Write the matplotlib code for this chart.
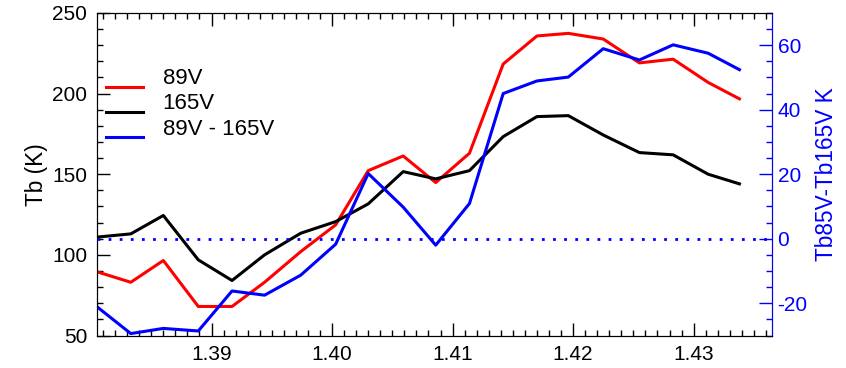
import numpy as np
import matplotlib.pyplot as plt
from matplotlib.ticker import MultipleLocator

plt.rcParams['font.family'] = ['Liberation Sans', 'DejaVu Sans']
plt.rcParams['axes.unicode_minus'] = False

# sample positions along the transect
x = [1.3805, 1.3833, 1.3860, 1.3889, 1.3917, 1.3944, 1.3974, 1.4003,
     1.4030, 1.4059, 1.4086, 1.4114, 1.4142, 1.4170, 1.4196, 1.4225,
     1.4255, 1.4283, 1.4312, 1.4338]

# brightness temperatures (K)
tb89 = [89.5, 83.0, 96.5, 68.0, 68.0, 83.0, 102.0, 118.6, 152.2, 161.3,
        144.8, 163.0, 218.3, 235.7, 237.3, 233.8, 219.0, 221.3, 206.9, 196.7]
tb165 = [111.0, 113.0, 124.4, 96.9, 84.1, 100.0, 113.4, 120.6, 131.6, 151.6,
         147.1, 152.2, 173.3, 185.7, 186.3, 174.3, 163.4, 162.0, 150.0, 144.0]
tb_diff = [-21.1, -29.4, -27.8, -28.6, -16.2, -17.5, -11.3, -1.7, 20.2, 9.8,
           -2.0, 10.9, 45.0, 48.9, 50.1, 58.9, 55.4, 60.1, 57.5, 52.4]

fig = plt.figure(figsize=(8.46, 3.68), dpi=100)
ax = fig.add_axes([0.1147, 0.0883, 0.7978, 0.8767])
ax2 = ax.twinx()

ax.plot(x, tb89, color='red', lw=2.2)
ax.plot(x, tb165, color='black', lw=2.2)
ax2.axhline(0, color='blue', lw=2.0, ls=(0, (1, 3)))
ax2.plot(x, tb_diff, color='blue', lw=2.2)

ax.set_xlim(1.3805, 1.4365)
ax.set_ylim(50, 250)
ax2.set_ylim(-30, 70)

ax.xaxis.set_major_locator(MultipleLocator(0.01))
ax.xaxis.set_minor_locator(MultipleLocator(0.001))
ax.yaxis.set_major_locator(MultipleLocator(50))
ax.yaxis.set_minor_locator(MultipleLocator(10))
ax2.yaxis.set_major_locator(MultipleLocator(20))
ax2.yaxis.set_minor_locator(MultipleLocator(5))
ax.xaxis.set_major_formatter(plt.FormatStrFormatter('%.2f'))

ax.tick_params(axis='both', which='major', direction='in', length=9.5,
               width=1, labelsize=15, pad=7)
ax.tick_params(axis='both', which='minor', direction='in', length=4.5, width=1)
ax.tick_params(axis='x', which='both', top=True)
ax.tick_params(axis='y', which='both', right=False)
ax2.tick_params(axis='y', which='major', direction='in', length=9.5, width=1,
                labelsize=15, pad=4, colors='blue')
ax2.tick_params(axis='y', which='minor', direction='in', length=4.5, width=1,
                colors='blue')
ax2.spines['right'].set_color('blue')

ax.set_ylabel('Tb (K)', fontsize=16.3, labelpad=3)
ax2.set_ylabel('Tb85V-Tb165V K', fontsize=16.3, color='blue', labelpad=5)

# legend drawn by hand, text sitting a little above each line
legend = [('89V', 'red'), ('165V', 'black'), ('89V - 165V', 'blue')]
for i, (label, color) in enumerate(legend):
    y_line = 0.771 - i * 0.078
    ax.plot([0.0133, 0.0681], [y_line, y_line], color=color, lw=2.2,
            transform=ax.transAxes)
    ax.text(0.0973, y_line + 0.025, label, fontsize=16, va='center',
            transform=ax.transAxes)

fig.savefig('out.png', dpi=100)
